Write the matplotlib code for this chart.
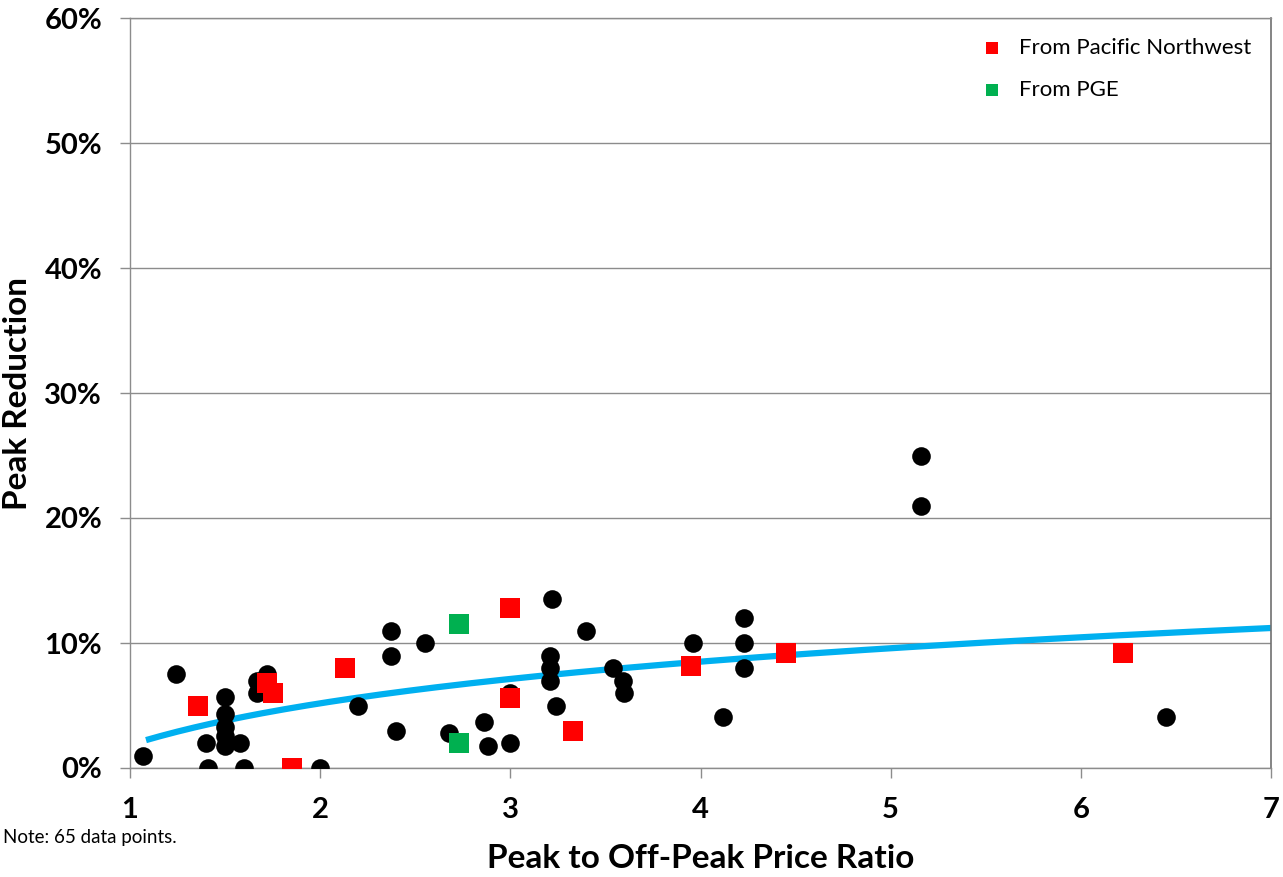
import numpy as np
import matplotlib
matplotlib.use("Agg")
import matplotlib.pyplot as plt
from matplotlib.ticker import FuncFormatter

plt.rcParams['font.family'] = ['Lato', 'DejaVu Sans']

# Pilot results: price ratio vs. peak reduction (%)
other_ratio = [1.07, 1.24, 1.40, 1.41, 1.50, 1.50, 1.50, 1.50, 1.50, 1.58, 1.60,
               1.67, 1.67, 1.72, 2.00, 2.20, 2.37, 2.37, 2.40, 2.55, 2.68, 2.86,
               2.88, 3.00, 3.00, 3.21, 3.21, 3.21, 3.22, 3.24, 3.40, 3.54, 3.59,
               3.60, 3.96, 4.12, 4.23, 4.23, 4.23, 5.16, 5.16, 6.45]
other_red = [1.0, 7.5, 2.0, 0.0, 5.7, 4.3, 3.3, 2.6, 1.8, 2.0, 0.0,
             7.0, 6.0, 7.5, 0.0, 5.0, 11.0, 9.0, 3.0, 10.0, 2.8, 3.7,
             1.8, 6.0, 2.0, 9.0, 8.0, 7.0, 13.5, 5.0, 11.0, 8.0, 7.0,
             6.0, 10.0, 4.1, 12.0, 10.0, 8.0, 25.0, 21.0, 4.1]

pnw_ratio = [1.36, 1.72, 1.75, 1.85, 2.13, 3.00, 3.00, 3.33, 3.95, 4.45, 6.22]
pnw_red = [5.0, 6.8, 6.0, 0.0, 8.0, 12.8, 5.6, 3.0, 8.2, 9.2, 9.2]

pge_ratio = [2.73, 2.73]
pge_red = [11.5, 2.0]

# Logarithmic trend line over all 65 pilots: y = a + b * ln(x)
trend_a = 1.84
trend_b = 4.81
trend_range = [1.1, 7.0]

x_ticks = [1, 2, 3, 4, 5, 6, 7]
y_ticks = [0, 10, 20, 30, 40, 50, 60]

fig = plt.figure(figsize=(12.83, 8.77), dpi=100)
ax = fig.add_axes([130 / 1283, 1 - 768 / 877, 1141 / 1283, 750 / 877])

xt = np.linspace(trend_range[0], trend_range[1], 200)
ax.plot(xt, trend_a + trend_b * np.log(xt), color='#00B0F0', lw=4.5, zorder=2)

ax.scatter(other_ratio, other_red, s=180, color='black', marker='o',
           linewidths=0, zorder=3)
ax.scatter(pnw_ratio, pnw_red, s=210, color='#FF0000', marker='s',
           linewidths=0, zorder=4, label='From Pacific Northwest')
ax.scatter(pge_ratio, pge_red, s=210, color='#00B050', marker='s',
           linewidths=0, zorder=4, label='From PGE')

ax.set_xlim(1, 7)
ax.set_ylim(0, 60)
ax.set_xticks(x_ticks)
ax.set_yticks(y_ticks)
ax.yaxis.set_major_formatter(FuncFormatter(lambda v, p: f"{v:.0f}%"))
ax.grid(axis='y', color='#8c8c8c', lw=1)
ax.set_axisbelow(True)
for side in ['left', 'bottom', 'top']:
    ax.spines[side].set_color('#8c8c8c')
    ax.spines[side].set_linewidth(1)
ax.spines['right'].set_color('#707070')
ax.spines['right'].set_linewidth(1.2)
ax.tick_params(axis='both', direction='out', length=7, width=1, color='#8c8c8c',
               labelsize=21)
ax.tick_params(axis='x', pad=14)
ax.tick_params(axis='y', pad=13)
for lab in ax.get_xticklabels() + ax.get_yticklabels():
    lab.set_fontweight('bold')

ax.set_xlabel('Peak to Off-Peak Price Ratio', fontsize=24, fontweight='bold',
              labelpad=15)
ax.set_ylabel('Peak Reduction', fontsize=24, fontweight='bold', labelpad=9)

leg = ax.legend(loc='upper right', frameon=False, fontsize=16, markerscale=0.6,
                handletextpad=0.2, labelspacing=1.0, borderaxespad=0.5,
                scatterpoints=1)

fig.text(3 / 1283, 1 - 838 / 877, 'Note: 65 data points.', ha='left',
         va='center', fontsize=13.5)

fig.savefig('out.png', dpi=100)
